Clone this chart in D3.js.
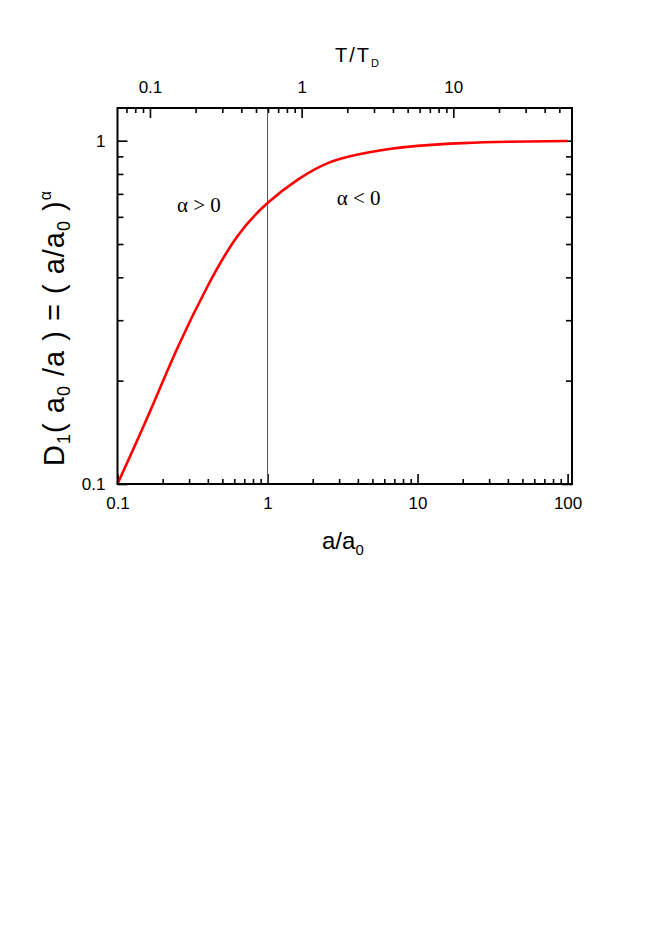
<!DOCTYPE html>
<html><head><meta charset="utf-8">
<script src="https://cdn.jsdelivr.net/npm/d3@7"></script>
<style>body{margin:0;background:#fff}</style>
</head><body>
<svg id="c" width="654" height="932"></svg>
<script>
// ---- data ----
const aValues = [0.1, 0.16, 0.25, 0.4, 0.63, 1.0, 1.6, 2.5, 4.0, 6.3, 10, 20, 40, 100];
const dValues = [0.1, 0.158, 0.248, 0.378, 0.527, 0.658, 0.771, 0.859, 0.911, 0.944, 0.966, 0.984, 0.993, 0.998];
const xDomain = [0.1, 107];
const yDomain = [0.1, 1.245];
const topDomain = [0.0611, 60.6];
const xMajor = [0.1, 1, 10, 100];
const xTickLabels = ["0.1", "1", "10", "100"];
const yMajor = [0.1, 1];
const yTickLabels = ["0.1", "1"];
const topMajor = [0.1, 1, 10];
const topTickLabels = ["0.1", "1", "10"];
const markerA = 1;
const regionLabels = ["\u03B1 > 0", "\u03B1 < 0"];
const regionPos = [[0.249, 0.621], [2.89, 0.65]]; // (a, D) at text start / baseline

const svg = d3.select("#c");
const L = 117.5, R = 572, T = 108, B = 484;
const sans = "'Liberation Sans', Arial, Helvetica, sans-serif";
const serif = "'Liberation Serif', 'Times New Roman', serif";

const x = d3.scaleLog().domain(xDomain).range([L, R]);
const y = d3.scaleLog().domain(yDomain).range([B, T]);
const xt = d3.scaleLog().domain(topDomain).range([L, R]);

function styleAxis(g) {
  g.select(".domain").remove();
  g.selectAll("line").attr("stroke", "#000").attr("stroke-width", 1.6);
  g.selectAll("text").attr("font-family", sans).attr("font-size", 17).attr("fill", "#000");
}

// minor ticks
const xMinor = x.ticks().filter(v => !xMajor.includes(v));
const yMinor = y.ticks().filter(v => !yMajor.includes(v) && v < 1.05);
const topMinor = xt.ticks().filter(v => !topMajor.some(m => Math.abs(m - v) < 1e-9));

svg.append("g").attr("transform", `translate(0,${B})`)
  .call(d3.axisBottom(x).tickValues(xMinor).tickFormat("").tickSizeInner(-5).tickSizeOuter(0)).call(styleAxis);
svg.append("g").attr("transform", `translate(0,${B})`)
  .call(d3.axisBottom(x).tickValues(xMajor).tickFormat((d, i) => xTickLabels[i]).tickSizeInner(-10).tickSizeOuter(0).tickPadding(13)).call(styleAxis);

svg.append("g").attr("transform", `translate(0,${T})`)
  .call(d3.axisTop(xt).tickValues(topMinor).tickFormat("").tickSizeInner(-5).tickSizeOuter(0)).call(styleAxis);
svg.append("g").attr("transform", `translate(0,${T})`)
  .call(d3.axisTop(xt).tickValues(topMajor).tickFormat((d, i) => topTickLabels[i]).tickSizeInner(-10).tickSizeOuter(0).tickPadding(15)).call(styleAxis);

svg.append("g").attr("transform", `translate(${L},0)`)
  .call(d3.axisLeft(y).tickValues(yMinor).tickFormat("").tickSizeInner(-6).tickSizeOuter(0)).call(styleAxis);
svg.append("g").attr("transform", `translate(${L},0)`)
  .call(d3.axisLeft(y).tickValues(yMajor).tickFormat((d, i) => yTickLabels[i]).tickSizeInner(-10).tickSizeOuter(0).tickPadding(12)).call(styleAxis);

svg.append("g").attr("transform", `translate(${R},0)`)
  .call(d3.axisRight(y).tickValues(yMinor).tickFormat("").tickSizeInner(-6).tickSizeOuter(0)).call(styleAxis);
svg.append("g").attr("transform", `translate(${R},0)`)
  .call(d3.axisRight(y).tickValues(yMajor).tickFormat("").tickSizeInner(-10).tickSizeOuter(0)).call(styleAxis);

// vertical marker at a/a0 = 1
svg.append("line").attr("x1", x(markerA)).attr("x2", x(markerA)).attr("y1", T).attr("y2", B)
  .attr("stroke", "#555").attr("stroke-width", 1);

// curve
const line = d3.line().x((d, i) => x(aValues[i])).y((d, i) => y(dValues[i])).curve(d3.curveNatural);
svg.append("path").datum(aValues).attr("d", line).attr("fill", "none")
  .attr("stroke", "#ff0000").attr("stroke-width", 2.6);

// frame
svg.append("rect").attr("x", L).attr("y", T).attr("width", R - L).attr("height", B - T)
  .attr("fill", "none").attr("stroke", "#000").attr("stroke-width", 2);

// region labels
regionLabels.forEach((t, i) => {
  svg.append("text").attr("x", x(regionPos[i][0])).attr("y", y(regionPos[i][1]))
    .attr("font-family", serif).attr("font-size", 21).text(t);
});

// x label
const xl = svg.append("text").attr("x", 322).attr("y", 549).attr("font-family", sans).attr("font-size", 24);
xl.append("tspan").text("a/a");
xl.append("tspan").attr("font-size", 15).attr("dy", 6).text("0");

// top label
const tl = svg.append("text").attr("x", 335).attr("y", 62).attr("font-family", sans).attr("font-size", 20);
tl.append("tspan").attr("letter-spacing", 2).text("T/T");
tl.append("tspan").attr("font-size", 11).attr("dy", 5).text("D");

// y label
const yl = svg.append("text").attr("transform", "translate(64,328) rotate(-90)")
  .attr("text-anchor", "middle").attr("font-family", sans).attr("font-size", 29).attr("letter-spacing", 1);
yl.append("tspan").text("D");
yl.append("tspan").attr("font-size", 18).attr("dy", 6).text("1");
yl.append("tspan").attr("dy", -6).text("( a");
yl.append("tspan").attr("font-size", 18).attr("dy", 6).text("0");
yl.append("tspan").attr("dy", -6).text(" /a ) = ( a/a");
yl.append("tspan").attr("font-size", 18).attr("dy", 6).text("0");
yl.append("tspan").attr("dy", -6).text(" )");
yl.append("tspan").attr("font-size", 16).attr("dy", -13).text("\u03B1");
</script>
</body></html>
